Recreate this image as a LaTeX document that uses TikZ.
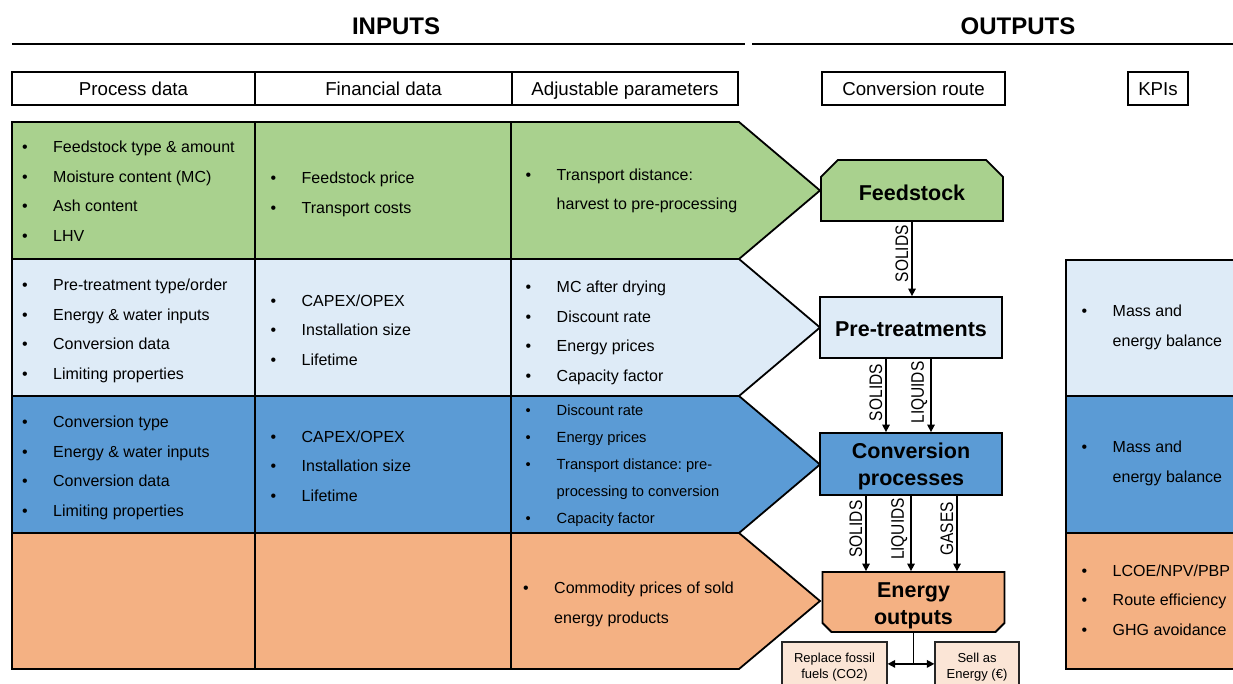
\documentclass[tikz,border=0pt]{standalone}
\usepackage{fontspec}
\setmainfont{Liberation Sans}
\usetikzlibrary{shapes.misc,arrows.meta,calc}
\definecolor{cgreen}{HTML}{A9D18E}
\definecolor{clight}{HTML}{DEEBF7}
\definecolor{cmid}{HTML}{5B9BD5}
\definecolor{corange}{HTML}{F4B183}
\definecolor{cpeach}{HTML}{FBE5D6}
\newcommand{\bitem}[1]{\strut\makebox[31pt][l]{\textbullet}#1}
\newcommand{\citem}[1]{\strut\hspace*{31pt}#1}
\newcommand{\tallt}[1]{\scalebox{1}[1.17]{#1}}
\newcommand{\lowr}[2]{\raisebox{-#1}[\height][\depth]{#2}}
\newcommand{\twol}[2]{\begin{tabular}{@{}c@{}}#1\\#2\end{tabular}}
\frenchspacing
\begin{document}
\begin{tikzpicture}[x=1pt,y=-1pt,line join=miter,
  hdr/.style={draw,line width=1.4pt,minimum height=33pt,inner sep=0pt,text height=17pt,text depth=3pt,
     font=\fontsize{18.7}{22}\selectfont},
  cell/.style={anchor=west,align=left,inner sep=0pt,font=\fontsize{16}{29.5}\selectfont},
  cellsm/.style={anchor=west,align=left,inner sep=0pt,font=\fontsize{14.7}{27}\selectfont},
  route/.style={draw,line width=1.8pt,inner sep=0pt,minimum width=182pt,
     font=\fontsize{21.5}{27}\selectfont\bfseries},
  chamf/.style={chamfered rectangle,chamfered rectangle xsep=9pt,chamfered rectangle ysep=9pt},
  flow/.style={-{Triangle[width=7.5pt,length=7.5pt]},line width=1.5pt},
  flab/.style={rotate=90,anchor=south,inner sep=3pt,font=\fontsize{15.5}{16}\selectfont},
  small/.style={draw=black!85,line width=1.2pt,fill=cpeach,align=center,inner sep=0pt,
     minimum height=50pt,font=\fontsize{13}{16}\selectfont},
  panel/.style={draw,line width=1.8pt}]
\useasboundingbox (0,0) rectangle (1233,684);
% titles
\node[font=\fontsize{24}{24}\selectfont\bfseries] (tin) at (396,26) {INPUTS};
\node[font=\fontsize{24}{24}\selectfont\bfseries] (tout) at (1018,26) {OUTPUTS};
\draw[line width=1.4pt] (12,44) -- (745,44);
\draw[line width=1.4pt] (752,44) -- (1240,44);
% header boxes
\node[hdr,minimum width=243pt] (hproc) at (133.5,88.5) {Process data};
\node[hdr,minimum width=257pt] (hfin) at (383.5,88.5) {Financial data};
\node[hdr,minimum width=226pt] (hadj) at (625,88.5) {Adjustable parameters};
\node[hdr,minimum width=183pt] (hroute) at (913.5,88.5) {Conversion route};
\node[hdr,minimum width=60pt] (hkpi) at (1158,88.5) {KPIs};
% input rows
\foreach \t/\b/\c in {122/259/cgreen,259/396/clight,396/533/cmid,533/669/corange}{
  \fill[\c] (12,\t) -- (739,\t) -- (820,{(\t+\b)/2}) -- (739,\b) -- (12,\b) -- cycle;
}
\foreach \t/\b in {122/259,259/396,396/533,533/669}{
  \draw[panel] (12,\t) -- (739,\t) -- (820,{(\t+\b)/2}) -- (739,\b) -- (12,\b) -- cycle;
  \draw[panel] (255,\t) -- (255,\b) (511,\t) -- (511,\b);
}
% KPI panels
\draw[panel,fill=clight] (1066,260) rectangle (1250,396);
\draw[panel,fill=cmid] (1066,396) rectangle (1250,533);
\draw[panel,fill=corange] (1066,533) rectangle (1250,669);
% cell texts
\node[cell] (p1) at (22,191) {\bitem{Feedstock type \& amount}\\\bitem{Moisture content (MC)}\\\bitem{Ash content}\\\bitem{LHV}};
\node[cell] (p2) at (22,329) {\bitem{Pre-treatment type/order}\\\bitem{Energy \& water inputs}\\\bitem{Conversion data}\\\bitem{Limiting properties}};
\node[cell] (p3) at (22,466) {\bitem{Conversion type}\\\bitem{Energy \& water inputs}\\\bitem{Conversion data}\\\bitem{Limiting properties}};
\node[cell] (f1) at (270.5,192.5) {\bitem{Feedstock price}\\\bitem{Transport costs}};
\node[cell] (f2) at (270.5,330) {\bitem{CAPEX/OPEX}\\\bitem{Installation size}\\\bitem{Lifetime}};
\node[cell] (f3) at (270.5,466) {\bitem{CAPEX/OPEX}\\\bitem{Installation size}\\\bitem{Lifetime}};
\node[cell] (a1) at (525.5,189) {\bitem{Transport distance:}\\\citem{harvest to pre-processing}};
\node[cell] (a2) at (525.5,331) {\bitem{MC after drying}\\\bitem{Discount rate}\\\bitem{Energy prices}\\\bitem{Capacity factor}};
\node[cellsm] (a3) at (525.5,464) {\bitem{Discount rate}\\\bitem{Energy prices}\\\bitem{Transport distance: pre-}\\\citem{processing to conversion}\\\bitem{Capacity factor}};
\node[cell] (a4) at (523,602.5) {\bitem{Commodity prices of sold}\\\citem{energy products}};
\node[cell] (k1) at (1081.5,325.5) {\bitem{Mass and}\\\citem{energy balance}};
\node[cell] (k2) at (1081.5,461.5) {\bitem{Mass and}\\\citem{energy balance}};
\node[cell] (k3) at (1081.5,600) {\bitem{LCOE/NPV/PBP}\\\bitem{Route efficiency}\\\bitem{GHG avoidance}};
% route boxes
\node[route,chamf,chamfered rectangle corners={north west,north east},fill=cgreen,minimum height=61pt] (feed) at (912,190.5) {\lowr{2.5pt}{Feedstock}};
\node[route,rectangle,fill=clight,minimum height=61pt] (pre) at (911,327.5) {\lowr{1.5pt}{Pre-treatments}};
\node[route,rectangle,fill=cmid,minimum height=62pt] (conv) at (911,464) {\lowr{3pt}{\twol{Conversion}{processes}}};
\node[route,chamf,chamfered rectangle corners={south west,south east},fill=corange,minimum height=60pt] (en) at (913.5,602) {\raisebox{-9pt}[0pt][0pt]{\twol{Energy}{outputs}}};
% flows
\draw[flow] (feed.south) -- (feed.south |- pre.north) node[flab,pos=0.43] {\tallt{SOLIDS}};
\coordinate (ps) at ($(pre.south)+(-25,0)$);
\coordinate (pl) at ($(pre.south)+(20,0)$);
\draw[flow] (ps) -- (ps |- conv.north) node[flab,pos=0.46] {\tallt{SOLIDS}};
\draw[flow] (pl) -- (pl |- conv.north) node[flab,pos=0.46] {\tallt{LIQUIDS}};
\coordinate (cs) at ($(conv.south)+(-45,0)$);
\coordinate (cl) at ($(conv.south)+(0,0)$);
\coordinate (cg) at ($(conv.south)+(46,0)$);
\draw[flow] (cs) -- (cs |- en.north) node[flab,pos=0.44] {\tallt{SOLIDS}};
\draw[flow] (cl) -- (cl |- en.north) node[flab,pos=0.44] {\tallt{LIQUIDS}};
\draw[flow] (cg) -- (cg |- en.north) node[flab,pos=0.44] {\tallt{GASES}};
% outputs
\node[small,minimum width=105pt] (rep) at (834.5,667) {Replace fossil\\fuels (CO2)};
\node[small,minimum width=84pt] (sell) at (977,667) {Sell as\\Energy (€)};
\coordinate (eo) at ($(en.south)+(0,31)$);
\draw[line width=1.6pt] (en.south) -- (eo);
\draw[flow] (eo) -- (eo -| rep.east);
\draw[flow] (eo) -- (eo -| sell.west);
\end{tikzpicture}
\end{document}
